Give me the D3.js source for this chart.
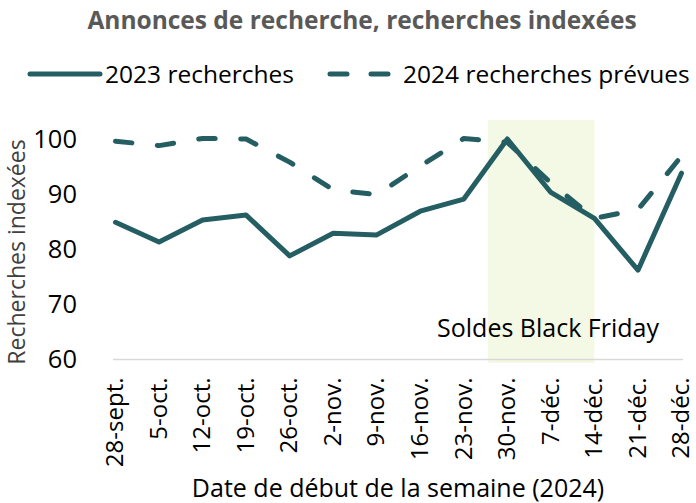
<!DOCTYPE html>
<html>
<head>
<meta charset="utf-8">
<script src="https://cdn.jsdelivr.net/npm/d3@7"></script>
<style>
  body { margin: 0; background: #fff; }
  text { font-family: "Open Sans", sans-serif; }
</style>
</head>
<body>
<svg id="chart"></svg>
<script>
const width = 696;
const height = 503;

const weeks = ["28-sept.", "5-oct.", "12-oct.", "19-oct.", "26-oct.", "2-nov.", "9-nov.",
  "16-nov.", "23-nov.", "30-nov.", "7-déc.", "14-déc.", "21-déc.", "28-déc."];
const searches2023 = [84.9, 81.3, 85.3, 86.2, 78.8, 82.9, 82.6, 86.9, 89.1, 100, 90.3, 85.6, 76.2, 93.8];
const searches2024 = [99.6, 98.8, 100.1, 100, 95.8, 90.8, 89.9, 95.1, 100.1, 99.4, 92.0, 85.6, 87.2, 96.9];
const blackFriday = ["30-nov.", "14-déc."];
const yTicks = [60, 70, 80, 90, 100];

const color = "#245e63";

const svg = d3.select("#chart")
  .attr("width", width)
  .attr("height", height);

const x = d3.scalePoint()
  .domain(weeks)
  .range([115.5, 681.5]);

const y = d3.scaleLinear()
  .domain([60, 100])
  .range([359.5, 139]);

// zone Black Friday
svg.append("rect")
  .attr("x", x(blackFriday[0]) - x.step() * 0.45)
  .attr("y", 120)
  .attr("width", x(blackFriday[1]) - x(blackFriday[0]) + x.step() * 0.45)
  .attr("height", 243)
  .attr("fill", "#f4f9e5");

svg.append("text")
  .attr("x", 548)
  .attr("y", 337)
  .attr("text-anchor", "middle")
  .style("font-size", "25px")
  .attr("fill", "#000")
  .text("Soldes Black Friday");

// axe x (ligne seulement)
svg.append("line")
  .attr("x1", 113).attr("x2", 683)
  .attr("y1", y(60)).attr("y2", y(60))
  .attr("stroke", "#d9d9d9")
  .attr("stroke-width", 1.5);

// axe y
const yAxis = svg.append("g")
  .attr("transform", "translate(80,0)")
  .call(d3.axisLeft(y).tickValues(yTicks).tickSize(0).tickPadding(3));
yAxis.select(".domain").remove();
yAxis.selectAll("text")
  .style("font-size", "25.5px")
  .style("font-family", "'Open Sans', sans-serif")
  .attr("fill", "#000");

// axe x labels
const xAxis = svg.append("g")
  .attr("transform", `translate(0,${y(60)})`)
  .call(d3.axisBottom(x).tickSize(0));
xAxis.select(".domain").remove();
xAxis.selectAll("text")
  .style("font-size", "24px")
  .style("font-family", "'Open Sans', sans-serif")
  .attr("fill", "#000")
  .attr("text-anchor", "end")
  .attr("transform", "rotate(-90)")
  .attr("x", -18)
  .attr("y", 0)
  .attr("dy", "0.3em");

const line = d3.line()
  .x((d, i) => x(weeks[i]))
  .y(d => y(d));

svg.append("path")
  .datum(searches2024)
  .attr("d", line)
  .attr("fill", "none")
  .attr("stroke", color)
  .attr("stroke-width", 5)
  .attr("stroke-linecap", "round")
  .attr("stroke-linejoin", "round")
  .attr("stroke-dasharray", "16.5,25.5");

svg.append("path")
  .datum(searches2023)
  .attr("d", line)
  .attr("fill", "none")
  .attr("stroke", color)
  .attr("stroke-width", 5)
  .attr("stroke-linecap", "round")
  .attr("stroke-linejoin", "round");

// titres
svg.append("text")
  .attr("x", 362)
  .attr("y", 29)
  .attr("text-anchor", "middle")
  .style("font-size", "24.5px")
  .style("font-weight", "bold")
  .attr("fill", "#595959")
  .text("Annonces de recherche, recherches indexées");

svg.append("text")
  .attr("transform", "translate(25,252) rotate(-90)")
  .attr("text-anchor", "middle")
  .style("font-size", "23px")
  .attr("fill", "#404040")
  .text("Recherches indexées");

svg.append("text")
  .attr("x", 398)
  .attr("y", 497)
  .attr("text-anchor", "middle")
  .style("font-size", "25px")
  .attr("fill", "#000")
  .text("Date de début de la semaine (2024)");

// légende
const legend = svg.append("g");
legend.append("line")
  .attr("x1", 30).attr("x2", 100).attr("y1", 74).attr("y2", 74)
  .attr("stroke", color).attr("stroke-width", 5).attr("stroke-linecap", "round");
legend.append("text")
  .attr("x", 105).attr("y", 83)
  .style("font-size", "24.5px")
  .text("2023 recherches");
legend.append("line")
  .attr("x1", 330).attr("x2", 392).attr("y1", 74).attr("y2", 74)
  .attr("stroke", color).attr("stroke-width", 5).attr("stroke-linecap", "round")
  .attr("stroke-dasharray", "17,24");
legend.append("text")
  .attr("x", 403).attr("y", 83)
  .style("font-size", "24.5px")
  .text("2024 recherches prévues");
</script>
</body>
</html>
